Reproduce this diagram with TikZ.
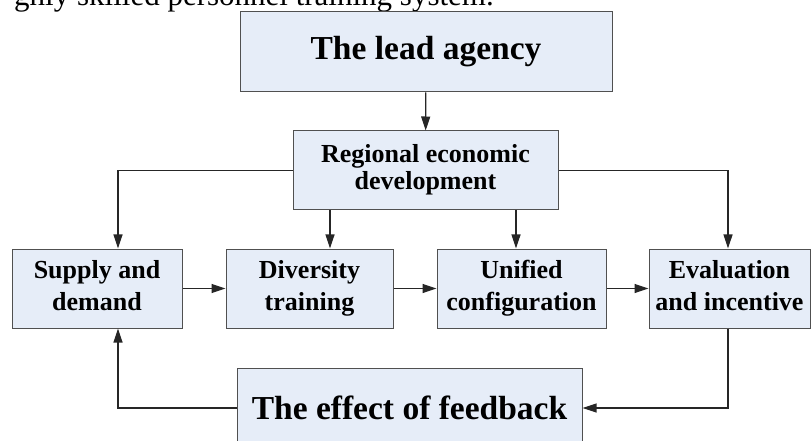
\documentclass[tikz,border=0pt]{standalone}
\usepackage{fontspec}
\setmainfont{Liberation Serif}
\usepackage{xcolor}
\usepackage{tikz}
\usetikzlibrary{arrows.meta,positioning,calc}

\definecolor{boxfill}{RGB}{230,237,248}
\definecolor{boxline}{RGB}{80,80,80}

\begin{document}
\begin{tikzpicture}[x=1pt, y=-1pt,
    box/.style={draw=boxline, line width=1pt, fill=boxfill, inner sep=0pt,
        align=center, minimum height=79pt},
    smalltext/.style={font=\fontsize{26}{32}\selectfont\bfseries},
    bigtext/.style={font=\fontsize{33.5}{40}\selectfont\bfseries},
    arr/.style={line width=1.2pt, draw=black!85, -{Triangle[length=14pt, width=9pt]}},
    link/.style={line width=1.2pt, draw=black!85}]
    % Bildausschnitt
    \clip (0,0) rectangle (812,441);
    \fill[white] (0,0) rectangle (812,441);

    % abgeschnittene Textzeile oben
    \node[anchor=base east, inner sep=0pt, font=\fontsize{31}{36}\selectfont] (caption) at (494,6) {ghly skilled personnel training system.};

    % obere Ebene
    \node[box, bigtext, minimum width=372pt, minimum height=80pt] (lead) at (426,52) {The lead agency};
    \node[box, font=\fontsize{26}{25}\selectfont\bfseries, minimum width=265pt] (regional) at (425.5,170.5) {\strut Regional economic\\\strut development};

    % mittlere Ebene
    \node[box, smalltext, minimum width=170pt] (supply) at (97,288.5) {\strut Supply and\\\strut demand};
    \node[box, smalltext, minimum width=167pt] (diversity) at (309.5,288.5) {\strut Diversity\\\strut training};
    \node[box, smalltext, minimum width=169pt] (unified) at (521.5,288.5) {\strut Unified\\\strut configuration};
    \node[box, smalltext, minimum width=161pt] (evaluation) at (729.5,288.5) {\strut Evaluation\\\strut and incentive};

    % untere Ebene
    \node[box, bigtext, minimum width=345pt, minimum height=80pt] (feedback) at (409.5,408) {The effect of feedback};

    % Verbindungen von oben
    \draw[arr] (lead) -- (regional);
    \draw[arr] (regional.west) -| ([xshift=21pt]supply.north);
    \draw[arr] ([xshift=20.5pt]diversity.north |- regional.south) -- ([xshift=20.5pt]diversity.north);
    \draw[arr] ([xshift=-5.5pt]unified.north |- regional.south) -- ([xshift=-5.5pt]unified.north);
    \draw[arr] (regional.east) -| ([xshift=-1.5pt]evaluation.north);

    % Kette
    \draw[arr] (supply) -- (diversity);
    \draw[arr] (diversity) -- (unified);
    \draw[arr] (unified) -- (evaluation);

    % Rueckkopplung
    \draw[arr] ([xshift=-1.5pt]evaluation.south) |- (feedback.east);
    \draw[arr] (feedback.west) -| ([xshift=21pt]supply.south);
\end{tikzpicture}
\end{document}
